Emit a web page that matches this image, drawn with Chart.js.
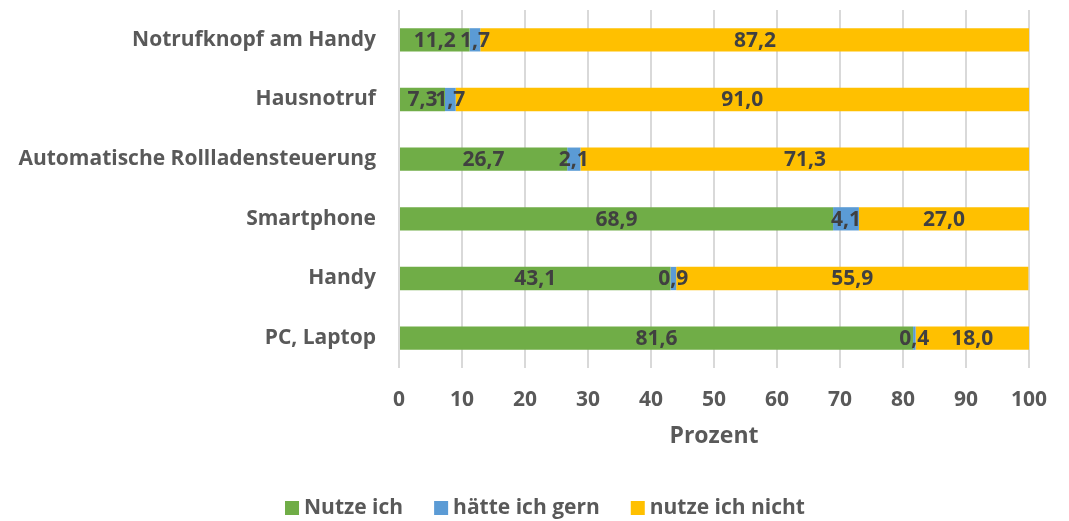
<!DOCTYPE html>
<html><head><meta charset="utf-8">
<script src="https://cdn.jsdelivr.net/npm/chart.js@4/dist/chart.umd.min.js"></script>
<style>html,body{margin:0;padding:0;background:#fff}#wrap{width:1069px;height:521px}</style>
</head><body><div id="wrap"><canvas id="c" width="1069" height="521"></canvas></div>
<script>
const categories = ["Notrufknopf am Handy","Hausnotruf","Automatische Rollladensteuerung","Smartphone","Handy","PC, Laptop"];
const nutzeIch = [11.2, 7.3, 26.7, 68.9, 43.1, 81.6];
const haetteIchGern = [1.7, 1.7, 2.1, 4.1, 0.9, 0.4];
const nutzeIchNicht = [87.2, 91.0, 71.3, 27.0, 55.9, 18.0];
const seriesNames = ["Nutze ich","hätte ich gern","nutze ich nicht"];
const seriesColors = ['#70AD47', '#5B9BD5', '#FFC000'];
const xTicks = [0,10,20,30,40,50,60,70,80,90,100];
const axisTitle = "Prozent";

const FONT = "'Open Sans', sans-serif";

const labelPlugin = {
  id: 'valueLabels',
  afterDatasetsDraw(chart) {
    const ctx = chart.ctx;
    ctx.save();
    ctx.font = "bold 21px " + FONT;
    ctx.fillStyle = '#404040';
    ctx.textAlign = 'center';
    ctx.textBaseline = 'middle';
    chart.data.datasets.forEach((ds, di) => {
      const meta = chart.getDatasetMeta(di);
      meta.data.forEach((bar, i) => {
        const v = ds.data[i];
        const x = (bar.x + bar.base) / 2;
        ctx.fillText(v.toFixed(1).replace('.', ','), x, bar.y + 1);
      });
    });
    ctx.restore();
  }
};

const legendPlugin = {
  id: 'customLegend',
  afterDraw(chart) {
    const ctx = chart.ctx;
    ctx.save();
    ctx.font = "bold 21px " + FONT;
    ctx.textBaseline = 'middle';
    ctx.textAlign = 'left';
    const box = 14, gapText = 5, gapItem = 31;
    const items = chart.data.datasets.map(d => ({text: d.label, color: d.backgroundColor, w: ctx.measureText(d.label).width}));
    let total = 0;
    items.forEach((it, i) => { total += box + gapText + it.w + (i < items.length - 1 ? gapItem : 0); });
    let x = 545 - total / 2;
    const cy = 508;
    items.forEach(it => {
      ctx.fillStyle = it.color;
      ctx.fillRect(x, cy - box / 2, box, box);
      ctx.fillStyle = '#595959';
      ctx.fillText(it.text, x + box + gapText, cy);
      x += box + gapText + it.w + gapItem;
    });
    ctx.restore();
  }
};

new Chart(document.getElementById('c'), {
  type: 'bar',
  data: {
    labels: categories,
    datasets: [
      {label: seriesNames[0], data: nutzeIch, backgroundColor: seriesColors[0]},
      {label: seriesNames[1], data: haetteIchGern, backgroundColor: seriesColors[1]},
      {label: seriesNames[2], data: nutzeIchNicht, backgroundColor: seriesColors[2]}
    ]
  },
  options: {
    indexAxis: 'y',
    responsive: false,
    animation: false,
    layout: {padding: {top: 10, right: 40, left: 0, bottom: 0}},
    datasets: {bar: {categoryPercentage: 0.39, barPercentage: 1}},
    scales: {
      x: {
        stacked: true, min: 0, max: 100,
        afterBuildTicks(s) { s.ticks = xTicks.map(v => ({value: v})); },
        grid: {color: '#D9D9D9', lineWidth: 2, drawTicks: false},
        border: {display: false},
        ticks: {color: '#595959', font: {family: FONT, size: 21, weight: 'bold'}, padding: 19},
        title: {display: true, text: axisTitle, color: '#595959', font: {family: FONT, size: 23, weight: 'bold'}, padding: {top: 0, bottom: 71}},
        afterFit(s) { s.height = 153; s.paddingLeft = 0; s.paddingRight = 0; }
      },
      y: {
        stacked: true,
        grid: {display: false},
        border: {display: false},
        ticks: {color: '#595959', font: {family: FONT, size: 21, weight: 'bold'}, padding: 15},
        afterFit(s) { s.width = 399; s.paddingTop = 0; s.paddingBottom = 0; }
      }
    },
    plugins: {
      legend: {display: false},
      tooltip: {enabled: false}
    }
  },
  plugins: [labelPlugin, legendPlugin]
});
</script></body></html>
